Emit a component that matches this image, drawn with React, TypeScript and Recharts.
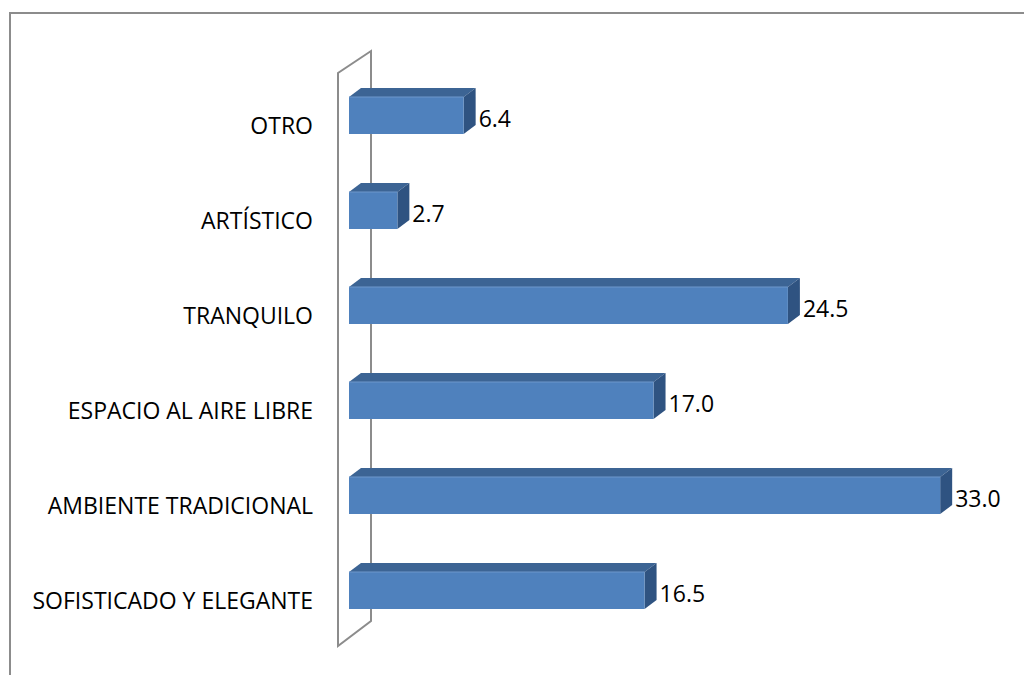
import { BarChart, Bar, XAxis, YAxis, LabelList, ReferenceArea } from 'recharts';

const categories = ['OTRO', 'ARTÍSTICO', 'TRANQUILO', 'ESPACIO AL AIRE LIBRE', 'AMBIENTE TRADICIONAL', 'SOFISTICADO Y ELEGANTE'];
const values = [6.4, 2.7, 24.5, 17.0, 33.0, 16.5];

const data = categories.map((name, i) => ({ name, value: values[i] }));

const FONT = '"Open Sans", sans-serif';
const FRONT = '#4f81bd';
const TOP = '#3c6494';
const SIDE = '#2f5381';
const DX = 12;
const DY = 9;

function Bar3D(props: any) {
  const { x, y, width, height } = props;
  if (width == null || height == null) return null;
  const r = x + width;
  return (
    <g>
      <polygon points={`${x},${y} ${x + DX},${y - DY} ${r + DX},${y - DY} ${r},${y}`} fill={TOP} />
      <polygon points={`${r},${y} ${r + DX},${y - DY} ${r + DX},${y + height - DY} ${r},${y + height}`} fill={SIDE} />
      <rect x={x} y={y} width={width} height={height} fill={FRONT} />
      <line x1={x} y1={y} x2={r} y2={y} stroke="#6f98cc" strokeWidth={1} />
    </g>
  );
}

// back wall drawn around the zero line
function Wall(props: any) {
  const { x, y, height } = props;
  const fx = x - 11;
  const bx = x + 22;
  const pts = [
    [fx, y + 5],
    [fx, y + height + 8],
    [bx, y + height - 17],
    [bx, y - 17],
  ];
  return (
    <polygon
      points={pts.map((p) => p.join(',')).join(' ')}
      fill="none"
      stroke="#8c8c8c"
      strokeWidth={2}
    />
  );
}

function CatTick(props: any) {
  const { x, y, payload } = props;
  return (
    <text x={x} y={y + 10} dy="0.35em" textAnchor="end" fontFamily={FONT} fontSize={23} fill="#000">
      {payload.value}
    </text>
  );
}

function ValueLabel(props: any) {
  const { x, y, width, height, value } = props;
  return (
    <text x={x + width + 15} y={y + height / 2 + 3} dy="0.35em" textAnchor="start" fontFamily={FONT} fontSize={23} fill="#000">
      {Number(value).toFixed(1)}
    </text>
  );
}

export default function App() {
  return (
    <div style={{ position: 'absolute', left: 0, top: 0, width: 1024, height: 675, background: '#fff', overflow: 'hidden' }}>
      <div
        style={{
          position: 'absolute',
          left: 9,
          top: 12,
          width: 1100,
          height: 800,
          borderTop: '2px solid #8c8c8c',
          borderLeft: '2px solid #8c8c8c',
        }}
      />
      <BarChart
        width={1024}
        height={675}
        data={data}
        layout="vertical"
        margin={{ top: 68, right: 48, bottom: 37, left: 19 }}
        barCategoryGap={29}
        style={{ position: 'absolute', left: 0, top: 0 }}
      >
        <XAxis type="number" domain={[0, 35]} hide />
        <YAxis
          type="category"
          dataKey="name"
          width={330}
          axisLine={false}
          tickLine={false}
          tickSize={0}
          tickMargin={36}
          tick={<CatTick />}
          interval={0}
        />
        <ReferenceArea x1={0} x2={0} ifOverflow="visible" shape={<Wall />} />
        <Bar dataKey="value" shape={<Bar3D />} isAnimationActive={false} barSize={37}>
          <LabelList dataKey="value" content={<ValueLabel />} />
        </Bar>
      </BarChart>
    </div>
  );
}
